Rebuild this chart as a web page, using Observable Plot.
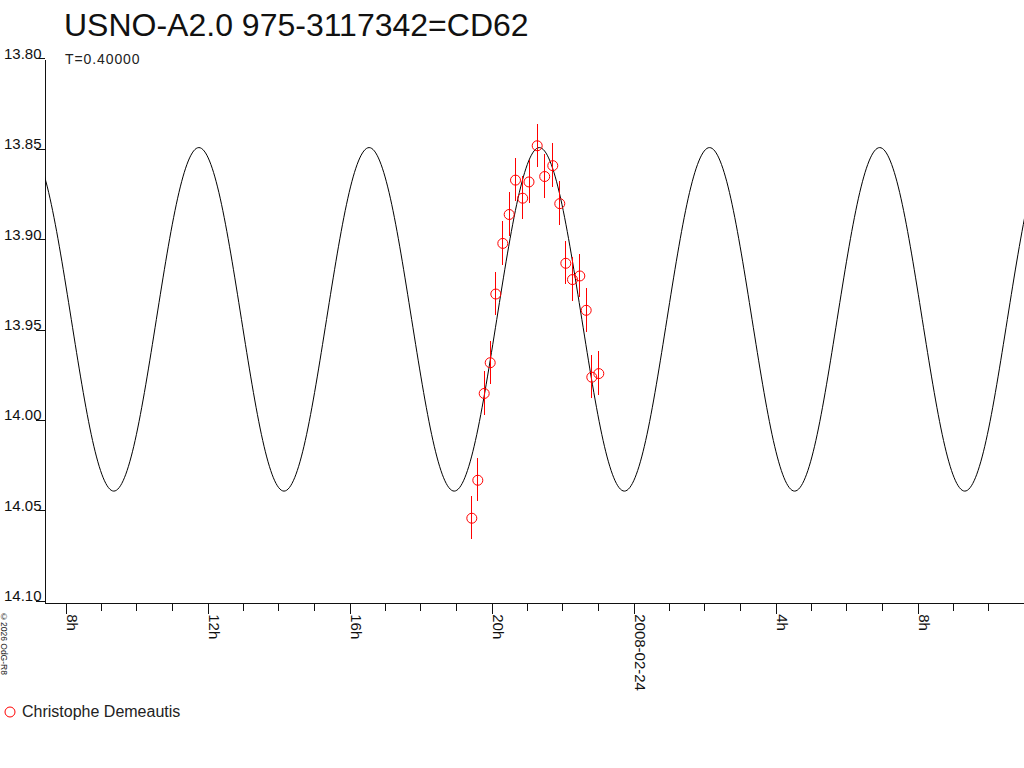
<!DOCTYPE html>
<html>
<head>
<meta charset="utf-8">
<script src="https://cdn.jsdelivr.net/npm/d3@7"></script>
<script src="https://cdn.jsdelivr.net/npm/@observablehq/plot@0.6"></script>
<style>
  body { margin: 0; background: #fff; font-family: "Liberation Sans", Arial, sans-serif; }
  #wrap { position: relative; width: 1024px; height: 768px; overflow: hidden; background: #fff; }
  #chart { position: absolute; left: 0; top: 0; }
  #title { position: absolute; left: 64px; top: 9px; font-size: 32px; line-height: 32px; color: #111; white-space: nowrap; }
  #sub { position: absolute; left: 65px; top: 51.5px; font-size: 14px; line-height: 14px; letter-spacing: 0.9px; color: #222; white-space: nowrap; }
  #copy { position: absolute; left: 0px; top: 612px; font-size: 8.5px; line-height: 8px; writing-mode: vertical-rl; color: #222; white-space: nowrap; }
  #legend { position: absolute; left: 4px; top: 703.5px; font-size: 16px; line-height: 16px; color: #222; white-space: nowrap; display: flex; align-items: center; }
  #legend svg { margin-right: 6px; }
</style>
</head>
<body>
<div id="wrap">
  <div id="chart"></div>
  <div id="title">USNO-A2.0 975-3117342=CD62</div>
  <div id="sub">T=0.40000</div>
  <div id="copy">©2026 OdG-R8</div>
  <div id="legend"><svg width="12" height="12"><circle cx="6" cy="6" r="5" fill="none" stroke="#ff0000" stroke-width="1"></circle></svg><span>Christophe Demeautis</span></div>
</div>
<script>
// Time origin: 2008-02-23 00:00 UT; times given in hours from it
const T0 = Date.UTC(2008, 1, 23);
const toDate = h => new Date(T0 + h * 3600e3);

// Observations (Christophe Demeautis)
const obsHours = [19.437, 19.606, 19.786, 19.955, 20.113, 20.310, 20.490, 20.668, 20.870, 21.048,
                  21.279, 21.490, 21.718, 21.915, 22.085, 22.273, 22.479, 22.659, 22.817, 23.014];
const obsMag   = [14.053, 14.032, 13.984, 13.967, 13.929, 13.901, 13.885, 13.866, 13.876, 13.867,
                  13.847, 13.864, 13.858, 13.879, 13.912, 13.921, 13.919, 13.938, 13.975, 13.973];
const obsErr   = [0.012, 0.012, 0.012, 0.012, 0.012, 0.012, 0.012, 0.012, 0.012, 0.012,
                  0.012, 0.012, 0.012, 0.012, 0.012, 0.012, 0.012, 0.012, 0.012, 0.012];

// Model light curve
const curveHours = [4.558, 5.157, 5.756, 6.356, 6.955, 7.554, 8.154, 8.753,
                    9.352, 9.952, 10.551, 11.150, 11.749, 12.349, 12.948, 13.547,
                    14.147, 14.746, 15.345, 15.945, 16.544, 17.143, 17.742, 18.342,
                    18.941, 19.540, 20.140, 20.739, 21.338, 21.938, 22.537, 23.136,
                    23.735, 24.335, 24.934, 25.533, 26.133, 26.732, 27.331, 27.931,
                    28.530, 29.129, 29.728, 30.328, 30.927, 31.526, 32.126, 32.725,
                    33.324, 33.924, 34.523, 35.122, 35.721, 36.321];
const curveMag   = [14.038, 14.010, 13.943, 13.876, 13.848, 13.876, 13.943, 14.010,
                    14.038, 14.010, 13.943, 13.876, 13.848, 13.876, 13.943, 14.010,
                    14.038, 14.010, 13.943, 13.876, 13.848, 13.876, 13.943, 14.010,
                    14.038, 14.010, 13.943, 13.876, 13.848, 13.876, 13.943, 14.010,
                    14.038, 14.010, 13.943, 13.876, 13.848, 13.876, 13.943, 14.010,
                    14.038, 14.010, 13.943, 13.876, 13.848, 13.876, 13.943, 14.010,
                    14.038, 14.010, 13.943, 13.876, 13.848, 13.876];

// Axes
const xDomainHours = [7.428, 35.006];
const xMajorHours = [8, 12, 16, 20, 24, 28, 32];
const xMajorLabels = ["8h", "12h", "16h", "20h", "2008-02-24", "4h", "8h"];
const xMinorHours = [9, 10, 11, 13, 14, 15, 17, 18, 19, 21, 22, 23, 25, 26, 27, 29, 30, 31, 33, 34];
const yDomain = [13.80, 14.10];
const yTicks = [13.80, 13.85, 13.90, 13.95, 14.00, 14.05, 14.10];

const obs = obsHours.map((h, i) => ({t: toDate(h), mag: obsMag[i], lo: obsMag[i] - obsErr[i], hi: obsMag[i] + obsErr[i]}));
const curve = curveHours.map((h, i) => ({t: toDate(h), mag: curveMag[i]}));
const labelMap = new Map(xMajorHours.map((h, i) => [+toDate(h), xMajorLabels[i]]));

const RED = "#ff0000";
const INK = "#111";

const chart = Plot.plot({
  width: 1024,
  height: 768,
  marginLeft: 45,
  marginRight: 0,
  marginTop: 60.3,
  marginBottom: 165.3,
  style: {fontFamily: "'Liberation Sans', Arial, sans-serif", fontSize: "15px", color: INK, background: "#fff", overflow: "visible"},
  x: {type: "utc", domain: xDomainHours.map(toDate), axis: null, label: null},
  y: {domain: yDomain, reverse: true, axis: null, label: null},
  marks: [
    Plot.ruleY([yDomain[1]], {stroke: INK, shapeRendering: "crispEdges"}),
    Plot.ruleX([toDate(xDomainHours[0])], {y1: yDomain[0], y2: yDomain[1], stroke: INK, shapeRendering: "crispEdges"}),
    Plot.axisY({ticks: yTicks, tickSize: 9, tickPadding: -5, tickFormat: d => d.toFixed(2),
                lineAnchor: "bottom", dy: -2, fontSize: 15, label: null, stroke: INK, fill: INK, shapeRendering: "crispEdges"}),
    Plot.axisX({ticks: xMajorHours.map(toDate), tickSize: 11, tickPadding: 0, tickRotate: 90,
                textAnchor: "start", lineAnchor: "bottom", dx: 1,
                tickFormat: d => labelMap.get(+d), fontSize: 15, label: null, stroke: INK, fill: INK, shapeRendering: "crispEdges"}),
    Plot.axisX({ticks: xMinorHours.map(toDate), tickSize: 8, text: null, label: null, stroke: INK, shapeRendering: "crispEdges"}),
    Plot.line(curve, {x: "t", y: "mag", curve: "natural", stroke: "#000", strokeWidth: 1, clip: true}),
    Plot.ruleX(obs, {x: "t", y1: "lo", y2: "hi", stroke: RED, strokeWidth: 1, shapeRendering: "crispEdges"}),
    Plot.dot(obs, {x: "t", y: "mag", r: 5, stroke: RED, strokeWidth: 1, fill: "none"})
  ]
});
document.getElementById("chart").appendChild(chart);
</script>
</body>
</html>
